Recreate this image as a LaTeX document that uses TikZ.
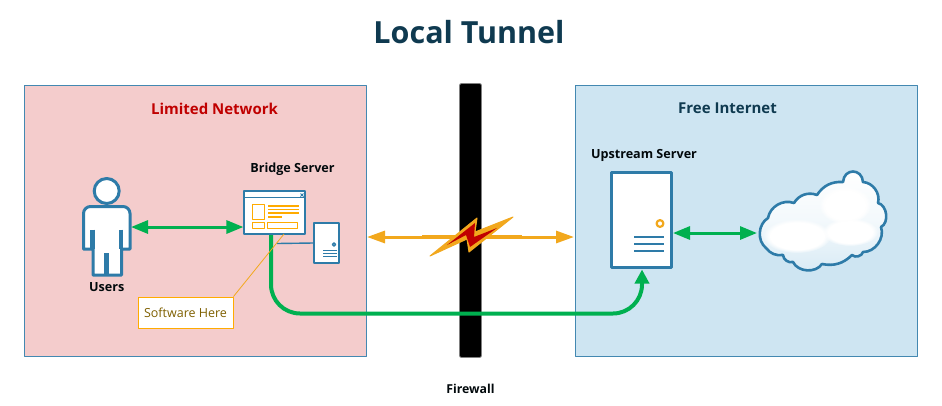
\documentclass[tikz,border=0pt]{standalone}
\usepackage{fontspec}
\setmainfont{Open Sans}
\usetikzlibrary{arrows.meta,fadings}
\definecolor{netblue}{HTML}{2E7BA8}
\definecolor{netgreen}{HTML}{00B050}
\definecolor{netorange}{HTML}{F2A81D}
\definecolor{netred}{HTML}{C00000}
\definecolor{netnavy}{HTML}{0F3A50}
\definecolor{limitfill}{HTML}{F4CCCC}
\definecolor{freefill}{HTML}{CEE5F2}
\definecolor{itemorange}{HTML}{FFAB00}
\definecolor{notetext}{HTML}{7F6000}

\begin{document}
\begin{tikzpicture}[x=1pt,y=-1pt,line join=round,
  label/.style={font=\fontsize{12.6}{15}\selectfont\bfseries,text=black!85!netnavy,inner sep=0pt},
  head/.style={font=\fontsize{15}{17}\selectfont\bfseries,inner sep=0pt},
  zone/.style={draw=netblue!90,line width=1pt,anchor=north west,minimum width=342,minimum height=271},
  box/.style={draw=netblue,fill=white,inner sep=0pt},
  item/.style={draw=itemorange,line width=1.2pt},
  wire/.style={netblue,line width=1.4pt},
  puff/.style={white,path fading=circle with fuzzy edge 20 percent},
  greenlink/.style={netgreen,line width=3pt,{Triangle[length=17pt,width=13pt]}-{Triangle[length=17pt,width=13pt]}},
  blank/.style={inner sep=0pt,outer sep=0pt}]
  \useasboundingbox (0,0) rectangle (942,405);
  \fill[white] (0,0) rectangle (942,405);

  \node[font=\fontsize{30.5}{36}\selectfont\bfseries,text=netnavy] (title) at (469,32) {Local Tunnel};

  \node[zone,fill=limitfill] (limited) at (24,85) {};
  \node[zone,fill=freefill]  (free)    at (575,85) {};
  \node[head,text=netred]  (limitedtext) at (214.5,108.5) {Limited Network};
  \node[head,text=netnavy] (freetext)    at (727.5,108.5) {Free Internet};

  \node[draw=black!50,fill=black,rounded corners=2,line width=.8pt,minimum width=22,minimum height=274,inner sep=0pt] (firewall) at (470.5,220.5) {};
  \node[label,font=\fontsize{12.3}{14}\selectfont\bfseries] (firewalltext) at (470.5,388.5) {Firewall};

  % users
  \node[blank,minimum width=49,minimum height=42] (user) at (106.5,227) {};
  \node[draw=netblue,fill=white,circle,line width=3pt,minimum size=25,inner sep=0pt] (userhead) at (106.7,191) {};
  \draw[netblue,fill=white,line width=3pt,rounded corners=7] (83.5,249) [sharp corners] -- (83.5,220) [rounded corners=7] -- (83.5,206.5) -- (130,206.5) [sharp corners] -- (130,220) -- (130,249)
    -- (121.5,249) -- (121.5,275) -- (93,275) -- (93,249) -- cycle;
  \draw[netblue,line width=4.5pt] (92.5,229.5) -- (92.5,249) (120.8,229.5) -- (120.8,249);
  \draw[netblue,line width=4.5pt] (106.7,253) -- (106.7,275);
  \node[label] (usertext) at (106.7,287.5) {Users};

  % long tunnel, goes under the window
  \coordinate (bus) at (460,313.5);
  \draw[netgreen,line width=4pt,rounded corners=29,-{Triangle[length=14pt,width=14pt]}]
    (271,234) |- (bus) -| (642,269.5);

  % bridge server
  \node[box,minimum width=25,minimum height=40,line width=1.2pt] (bridge) at (326.5,243) {};
  \draw[netblue,line width=1.3pt] (334,244.5) circle (1.6);
  \draw[netblue,line width=1.2pt] (323,250.5) -- (337,250.5) (323,253.5) -- (337,253.5) (323,256.5) -- (337,256.5);
  \draw[wire] (277,243.5) -- (bridge.west);
  \node[box,minimum width=61,minimum height=43,line width=1.2pt] (window) at (274.5,212.5) {};
  \draw[netblue,line width=1.2pt] (window.north west) ++(0,7) -- ++(61,0);
  \draw[netblue,line width=.8pt] (300.5,193.5) -- (303.5,196.5) (303.5,193.5) -- (300.5,196.5);
  \draw[item] (252.5,204.5) rectangle (264.5,219.5) (252.5,222.5) rectangle (264.5,228.5) (267.5,222.5) rectangle (297.5,228.5);
  \draw[item] (268,206) -- (299,206) (268,209.5) -- (299,209.5) (268,213) -- (299,213) (268,217) -- (282,217);
  \node[label] (bridgetext) at (292.5,169.5) {Bridge Server};

  \node[draw=itemorange,fill=white,line width=1pt,minimum width=95,minimum height=31,inner sep=0pt,
    text=notetext,font=\fontsize{12.5}{15}\selectfont] (note) at (185.5,312.5) {Software Here};
  \draw[netorange,line width=.8pt] (note.north east) -- (284,234);

  \draw[greenlink] (user.east) -- (user.east -| window.west);

  % upstream server
  \node[box,minimum width=60,minimum height=95,line width=3pt] (upstream) at (641.5,220) {};
  \draw[netorange,line width=2.2pt] (660,223.5) circle (3.4);
  \draw[netblue,line width=2pt] (634,236.5) -- (664,236.5) (634,243.5) -- (664,243.5) (634,251) -- (664,251);
  \node[label] (upstreamtext) at (644,155.5) {Upstream Server};

  % internet cloud
  \node[blank,minimum width=130,minimum height=100] (cloud) at (822,233) {};
  \draw[netblue,line width=2.6pt,top color=white,bottom color=freefill!80!white,middle color=freefill!25!white]
    (766,248) to[bend left=55] (768,218) to[bend left=50] (794,203) to[bend left=40] (817,195)
    to[bend left=30] (843,182) .. controls (844,168) and (862,168) .. (863,182) to[bend left=50] (878,203)
    to[bend left=70] (881,227) to[bend left=55] (863,252) to[bend left=60] (852,255)
    to[bend left=28] (822,264) to[bend left=60] (793,262) to[bend left=50] (783,255)
    to[bend left=30] cycle;
  \fill[puff] (845,205) ellipse (26 and 19);
  \fill[puff] (797,236) ellipse (34 and 17);
  \fill[puff] (850,232) ellipse (28 and 14);
  \draw[greenlink] (upstream.east |- cloud.west) -- (cloud.west);

  % unstable link across the firewall
  \coordinate (linkleft) at (367,237);
  \coordinate (linkright) at (574,237);
  \draw[netorange,line width=3pt,{Triangle[length=18pt,width=12pt]}-{Triangle[length=18pt,width=12pt]}] (linkleft) -- (linkright);
  \draw[netorange,line width=1.5pt] (422,235.5) -- (522,235.5);
  \fill[netorange,draw=netorange,line width=1pt] (430,256) -- (477,218) -- (475,232) -- (513,217)
    -- (469,252) -- (467,239) -- cycle;
  \fill[netred] (447,245) -- (475,223) -- (474,237) -- (497,228) -- (470,247) -- (466,235) -- cycle;
\end{tikzpicture}
\end{document}
